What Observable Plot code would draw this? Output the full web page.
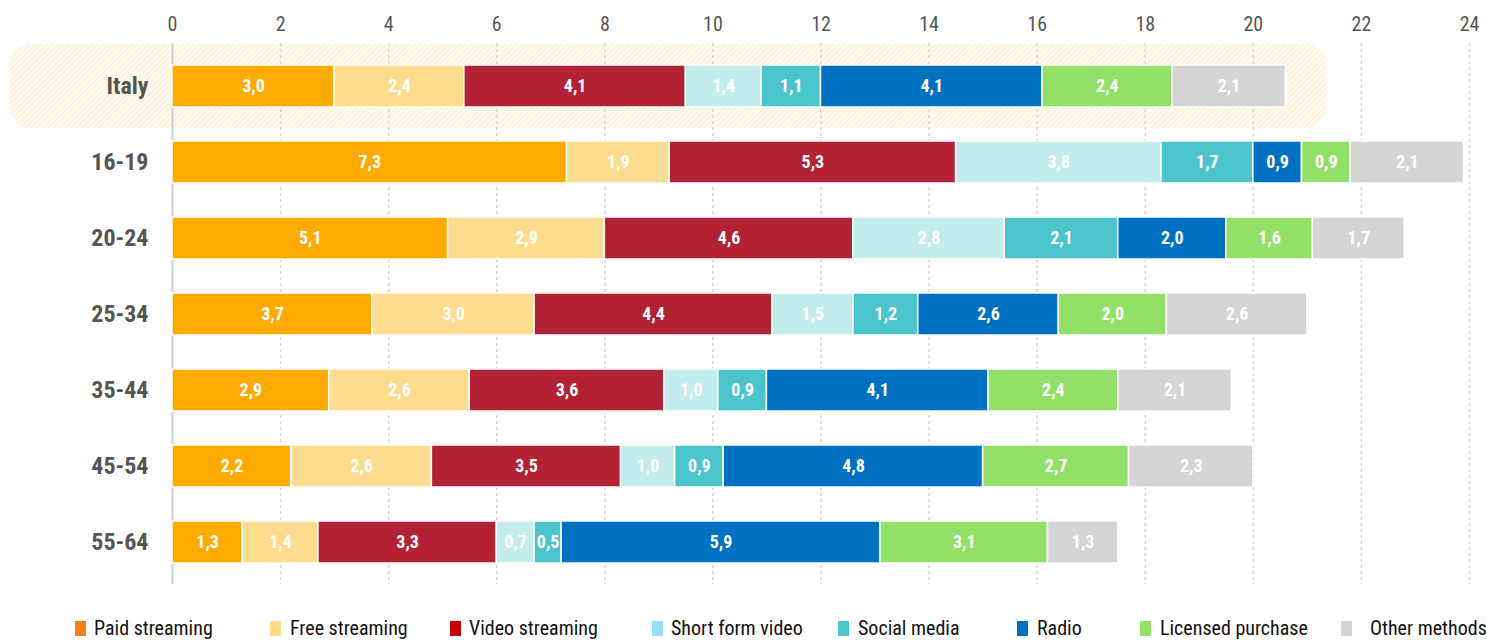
<!DOCTYPE html>
<html>
<head>
<meta charset="utf-8">
<script src="https://cdn.jsdelivr.net/npm/d3@7"></script>
<script src="https://cdn.jsdelivr.net/npm/@observablehq/plot@0.6"></script>
<style>
  body { margin: 0; background: #fff; width: 1487px; height: 640px; overflow: hidden; position: relative; }
  #chart { position: absolute; left: 0; top: 0; }
  .legend { position: absolute; top: 614px; left: 0; width: 1487px; height: 30px;
    font-family: "Roboto Condensed", "Liberation Sans Narrow", "Arial Narrow", sans-serif; font-size: 20px; color: #111; }
  .legend .sw { position: absolute; top: 7px; width: 11px; height: 15px; }
  .legend .lb { position: absolute; top: 2px; white-space: nowrap; }
</style>
</head>
<body>
<div id="chart"></div>
<div class="legend" id="legend"></div>
<script>
const categories = ["Italy", "16-19", "20-24", "25-34", "35-44", "45-54", "55-64"];
const methods = ["Paid streaming", "Free streaming", "Video streaming", "Short form video", "Social media", "Radio", "Licensed purchase", "Other methods"];
const barColors = ["#FFAA00", "#FCDC8E", "#B22234", "#C3ECEC", "#4BC4CC", "#0070C0", "#92E067", "#D5D5D5"];
const legendColors = ["#F98012", "#FFDD88", "#C00000", "#99DDFF", "#4BC4CC", "#0070C0", "#92E067", "#D5D5D5"];
const xTicks = [0, 2, 4, 6, 8, 10, 12, 14, 16, 18, 20, 22, 24];

const paidStreaming    = [3.0, 7.3, 5.1, 3.7, 2.9, 2.2, 1.3];
const freeStreaming    = [2.4, 1.9, 2.9, 3.0, 2.6, 2.6, 1.4];
const videoStreaming   = [4.1, 5.3, 4.6, 4.4, 3.6, 3.5, 3.3];
const shortFormVideo   = [1.4, 3.8, 2.8, 1.5, 1.0, 1.0, 0.7];
const socialMedia      = [1.1, 1.7, 2.1, 1.2, 0.9, 0.9, 0.5];
const radio            = [4.1, 0.9, 2.0, 2.6, 4.1, 4.8, 5.9];
const licensedPurchase = [2.4, 0.9, 1.6, 2.0, 2.4, 2.7, 3.1];
const otherMethods     = [2.1, 2.1, 1.7, 2.6, 2.1, 2.3, 1.3];

// layout-only constants for the legend (left edge of swatch, left edge of label)
const legendSwatchLeft = [75, 270, 450, 652, 838, 1017, 1140, 1341];
const legendLabelLeft  = [94, 290, 469, 671, 858, 1037, 1160, 1370];

const series = [paidStreaming, freeStreaming, videoStreaming, shortFormVideo, socialMedia, radio, licensedPurchase, otherMethods];
const data = [];
categories.forEach((c, i) => {
  methods.forEach((m, j) => data.push({ cat: c, method: m, value: series[j][i] }));
});

const fontCond = "'Roboto Condensed', 'Liberation Sans Narrow', 'Arial Narrow', sans-serif";
const fmt = v => v.toFixed(1).replace(".", ",");

const plot = Plot.plot({
  width: 1487,
  height: 600,
  marginLeft: 172,
  marginRight: 18,
  marginTop: 43,
  marginBottom: 16,
  style: { fontFamily: fontCond, background: "transparent", overflow: "visible" },
  x: { domain: [0, 24], axis: null },
  y: { domain: categories, paddingInner: 0.45, paddingOuter: 0.28, axis: null },
  color: { domain: methods, range: barColors },
  marks: [
    Plot.ruleX(xTicks.filter(d => d > 0), { stroke: "#d6d6d6", strokeWidth: 1.5, strokeDasharray: "3,3" }),
    Plot.ruleX([0], { stroke: "#cfcfcf", strokeWidth: 2 }),
    Plot.axisX(xTicks, { anchor: "top", label: null, tickSize: 0, tickPadding: 13, fontSize: 20, fill: "#555", tickFormat: d => d, stroke: null }),
    Plot.axisY({ anchor: "left", label: null, tickSize: 0, tickPadding: 24, fontSize: 24, fontWeight: "bold", fill: "#555" }),
    Plot.barX(data, Plot.stackX({ x: "value", y: "cat", fill: "method", order: methods, stroke: "#fff", strokeWidth: 1.5 })),
    Plot.text(data, Plot.stackX({ x: "value", y: "cat", z: "method", order: methods, text: d => fmt(d.value), fill: "#fff", fontSize: 18, fontWeight: "bold" }))
  ]
});

// Italy highlight background, placed via the plot's own scales
const xs = plot.scale("x"), ys = plot.scale("y");
const italyTotal = series.reduce((s, arr) => s + arr[0], 0);
const bw = ys.bandwidth;
const y0 = ys.apply("Italy") - bw / 2;
const x1 = xs.apply(italyTotal + 0.75);
const svg = d3.select(plot);
const ns = "http://www.w3.org/2000/svg";
const defs = svg.insert("defs", ":first-child");
const pat = defs.append("pattern").attr("id", "hatch").attr("patternUnits", "userSpaceOnUse")
  .attr("width", 4).attr("height", 4).attr("patternTransform", "rotate(45)");
pat.append("rect").attr("width", 4).attr("height", 4).attr("fill", "#FFFAEE");
pat.append("line").attr("x1", 0).attr("y1", 0).attr("x2", 0).attr("y2", 4).attr("stroke", "#F9E9C4").attr("stroke-width", 1.4);
const firstG = plot.querySelector("g");
const hl = document.createElementNS(ns, "rect");
hl.setAttribute("x", 10);
hl.setAttribute("y", y0);
hl.setAttribute("width", x1 - 10);
hl.setAttribute("height", bw * 2);
hl.setAttribute("rx", 20);
hl.setAttribute("fill", "url(#hatch)");
plot.insertBefore(hl, firstG);

document.getElementById("chart").appendChild(plot);

const legend = document.getElementById("legend");
methods.forEach((m, i) => {
  const sw = document.createElement("div");
  sw.className = "sw";
  sw.style.left = legendSwatchLeft[i] + "px";
  sw.style.background = legendColors[i];
  legend.appendChild(sw);
  const lb = document.createElement("div");
  lb.className = "lb";
  lb.style.left = legendLabelLeft[i] + "px";
  lb.textContent = m;
  legend.appendChild(lb);
});
</script>
</body>
</html>
